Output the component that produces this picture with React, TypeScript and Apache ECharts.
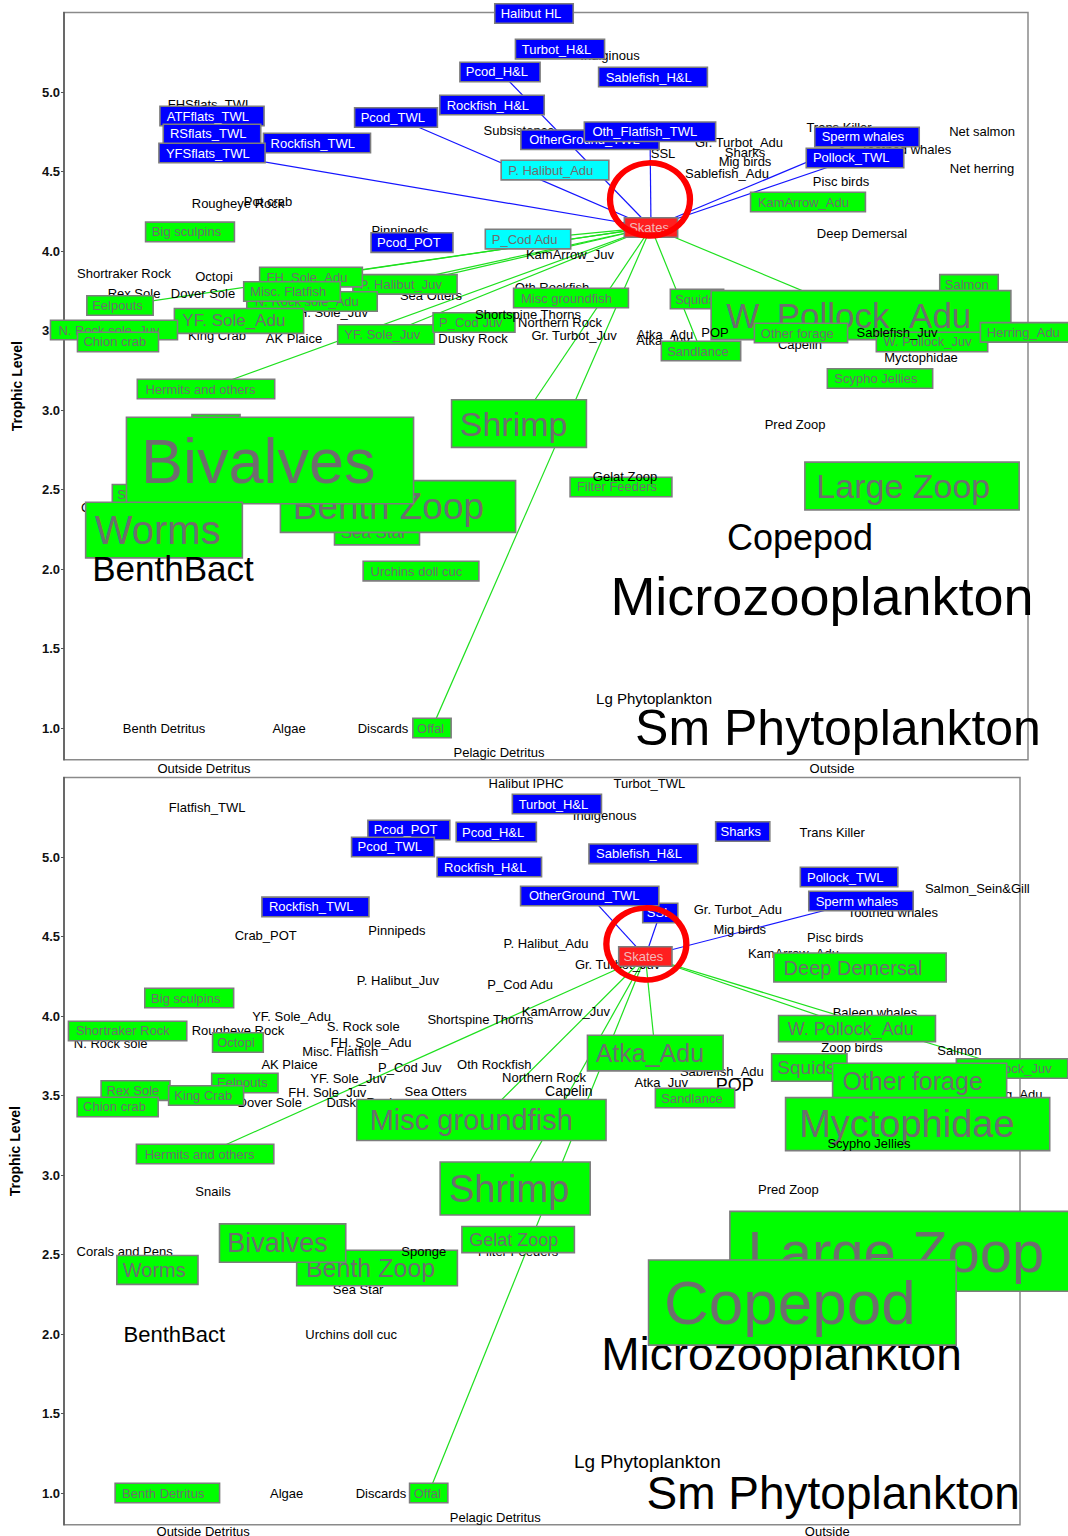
import React, { useEffect, useRef } from "react";
import * as echarts from "echarts";

// [name, x position in the web layout, trophic level, role, label size]
// role: n = plain group, b = fleet / predator of focus (blue), g = prey of focus (green),
//       c = predator and prey (cyan), r = focus group
// rows are listed in drawing order (later rows are drawn on top)
type Row = [string, number, number, string, number];

const topNodes: Row[] = [
  ["FHSflats_TWL", 146, 4.92, "n", 13],
  ["Indiginous", 546, 5.23, "n", 13],
  ["Subsistence", 455, 4.755, "n", 13],
  ["SSL", 599, 4.616, "n", 13],
  ["Gr. Turbot_Adu", 675, 4.68, "n", 13],
  ["Sharks", 681, 4.62, "n", 13],
  ["Mig birds", 681, 4.56, "n", 13],
  ["Sablefish_Adu", 663, 4.49, "n", 13],
  ["Trans Killer", 775, 4.774, "n", 13],
  ["Toothed whales", 842, 4.64, "n", 13],
  ["Net salmon", 918, 4.75, "n", 13],
  ["Net herring", 918, 4.52, "n", 13],
  ["Pisc birds", 777, 4.434, "n", 13],
  ["Deep Demersal", 798, 4.113, "n", 13],
  ["Rougheye Rock", 174, 4.3, "n", 13],
  ["Pot crab", 204, 4.31, "n", 13],
  ["Pinnipeds", 336, 4.13, "n", 13],
  ["KamArrow_Juv", 506, 3.98, "n", 13],
  ["Shortraker Rock", 60, 3.86, "n", 13],
  ["Octopi", 150, 3.84, "n", 13],
  ["Rex Sole", 70, 3.73, "n", 13],
  ["Dover Sole", 139, 3.73, "n", 13],
  ["Sea Otters", 367, 3.72, "n", 13],
  ["FH. Sole_Juv", 265, 3.615, "n", 13],
  ["King Crab", 153, 3.47, "n", 13],
  ["AK Plaice", 230, 3.45, "n", 13],
  ["Oth Rockfish", 488, 3.77, "n", 13],
  ["Dusky Rock", 409, 3.45, "n", 13],
  ["Gr. Turbot_Juv", 510, 3.47, "n", 13],
  ["Atka_Adu", 601, 3.475, "n", 13],
  ["Atka_Juv", 599, 3.44, "n", 13],
  ["Capelin", 736, 3.41, "n", 13],
  ["Myctophidae", 857, 3.33, "n", 13],
  ["Pred Zoop", 731, 2.906, "n", 13],
  ["Corals and Pens", 65, 2.385, "n", 13],
  ["Copepod", 736, 2.2, "n", 36],
  ["Microzooplankton", 758, 1.83, "n", 54],
  ["Lg Phytoplankton", 590, 1.186, "n", 15],
  ["Sm Phytoplankton", 774, 1.0, "n", 50],
  ["Benth Detritus", 100, 1.0, "n", 13],
  ["Algae", 225, 1.0, "n", 13],
  ["Discards", 319, 1.0, "n", 13],
  ["Pelagic Detritus", 435, 0.843, "n", 13],
  ["Outside Detritus", 140, 0.745, "n", 13],
  ["Outside", 768, 0.745, "n", 13],
  ["Halibut HL", 470, 5.494, "b", 13],
  ["Turbot_H&L", 496, 5.27, "b", 13],
  ["Pcod_H&L", 436, 5.126, "b", 13],
  ["Sablefish_H&L", 589, 5.094, "b", 13],
  ["Rockfish_H&L", 428, 4.918, "b", 13],
  ["Pcod_TWL", 332, 4.84, "b", 13],
  ["Rockfish_TWL", 253, 4.679, "b", 13],
  ["ATFflats_TWL", 148, 4.849, "b", 13],
  ["RSflats_TWL", 148, 4.736, "b", 13],
  ["YFSflats_TWL", 148, 4.616, "b", 13],
  ["OtherGround_TWL", 526, 4.7, "b", 13],
  ["Oth_Flatfish_TWL", 586, 4.75, "b", 13],
  ["P. Halibut_Adu", 491, 4.509, "c", 13],
  ["Sperm whales", 803, 4.717, "b", 13],
  ["Pollock_TWL", 791, 4.585, "b", 13],
  ["KamArrow_Adu", 744, 4.308, "g", 13],
  ["Big sculpins", 126, 4.12, "g", 13],
  ["Pcod_POT", 348, 4.053, "b", 13],
  ["P_Cod Adu", 464, 4.075, "c", 13],
  ["Salmon", 905, 3.79, "g", 13],
  ["Misc groundfish", 507, 3.704, "g", 13],
  ["Squids", 633, 3.698, "g", 13],
  ["P. Halibut_Juv", 341, 3.79, "g", 13],
  ["FH. Sole_Adu", 247, 3.836, "g", 13],
  ["N. Rock sole_Adu", 248, 3.682, "g", 13],
  ["Misc. Flatfish", 228, 3.745, "g", 13],
  ["Eelpouts", 56, 3.657, "g", 13],
  ["YF. Sole_Adu", 175, 3.56, "g", 17],
  ["N. Rock sole_Juv", 50, 3.503, "g", 13],
  ["Chion crab", 54, 3.428, "g", 13],
  ["YF. Sole_Juv", 322, 3.475, "g", 13],
  ["P_Cod Juv", 410, 3.55, "g", 13],
  ["Sandlance", 637, 3.371, "g", 13],
  ["W. Pollock_Adu", 797, 3.597, "g", 35],
  ["Other forage", 737, 3.484, "g", 13],
  ["W. Pollock_Juv", 868, 3.428, "g", 13],
  ["Herring_Adu", 963, 3.488, "g", 13],
  ["Scypho Jellies", 816, 3.198, "g", 13],
  ["Hermits and others", 142, 3.132, "g", 13],
  ["Shrimp", 455, 2.915, "g", 34],
  ["Snails", 152, 2.91, "g", 13],
  ["Sponge", 78, 2.47, "g", 13],
  ["Sea Star", 313, 2.23, "g", 17],
  ["Benth Zoop", 334, 2.393, "g", 37],
  ["Bivalves", 206, 2.682, "g", 63],
  ["Worms", 100, 2.245, "g", 40],
  ["Urchins doll cuc", 357, 1.987, "g", 13],
  ["Filter Feeders", 557, 2.516, "g", 13],
  ["Large Zoop", 848, 2.522, "g", 34],
  ["Offal", 368, 1.0, "g", 13],
  ["Skates", 587, 4.148, "r", 13],
  ["BenthBact", 109, 2.003, "n", 35],
  ["Gelat Zoop", 561, 2.579, "n", 13],
  ["Shortspine Thorns", 464, 3.6, "n", 13],
  ["Northern Rock", 496, 3.553, "n", 13],
  ["Sablefish_Juv", 833, 3.49, "n", 13],
  ["POP", 651, 3.49, "n", 13],
];

const bottomNodes: Row[] = [
  ["Halibut IPHC", 465, 5.465, "n", 13],
  ["Turbot_TWL", 589, 5.465, "n", 13],
  ["Flatfish_TWL", 144, 5.31, "n", 13],
  ["Indigenous", 544, 5.258, "n", 13],
  ["Trans Killer", 773, 5.157, "n", 13],
  ["Salmon_Sein&Gill", 919, 4.799, "n", 13],
  ["Toothed whales", 834, 4.654, "n", 13],
  ["Gr. Turbot_Adu", 678, 4.667, "n", 13],
  ["Mig birds", 680, 4.541, "n", 13],
  ["Pisc birds", 776, 4.491, "n", 13],
  ["KamArrow_Adu", 734, 4.396, "n", 13],
  ["Crab_POT", 203, 4.509, "n", 13],
  ["Pinnipeds", 335, 4.535, "n", 13],
  ["P. Halibut_Adu", 485, 4.453, "n", 13],
  ["Gr. Turbot_Juv", 557, 4.327, "n", 13],
  ["P_Cod Adu", 459, 4.195, "n", 13],
  ["P. Halibut_Juv", 336, 4.226, "n", 13],
  ["KamArrow_Juv", 505, 4.031, "n", 13],
  ["Baleen whales", 816, 4.025, "n", 13],
  ["YF. Sole_Adu", 229, 3.994, "n", 13],
  ["S. Rock sole", 301, 3.937, "n", 13],
  ["Shortspine Thorns", 419, 3.975, "n", 13],
  ["N. Rock sole", 47, 3.824, "n", 13],
  ["Rougheye Rock", 175, 3.906, "n", 13],
  ["FH. Sole_Adu", 309, 3.836, "n", 13],
  ["Misc. Flatfish", 278, 3.774, "n", 13],
  ["AK Plaice", 227, 3.692, "n", 13],
  ["Zoop birds", 793, 3.805, "n", 13],
  ["Salmon", 901, 3.786, "n", 13],
  ["Oth Rockfish", 433, 3.698, "n", 13],
  ["P_Cod Juv", 348, 3.673, "n", 13],
  ["Northern Rock", 483, 3.616, "n", 13],
  ["YF. Sole_Juv", 286, 3.604, "n", 13],
  ["Sablefish_Adu", 662, 3.648, "n", 13],
  ["Atka_Juv", 601, 3.579, "n", 13],
  ["POP", 675, 3.566, "n", 18],
  ["Capelin", 508, 3.528, "n", 14],
  ["Sea Otters", 374, 3.528, "n", 13],
  ["FH. Sole_Juv", 265, 3.522, "n", 13],
  ["Herring_Adu", 948, 3.509, "n", 13],
  ["Dover Sole", 207, 3.453, "n", 13],
  ["Dusky Rock", 299, 3.453, "n", 13],
  ["Snails", 150, 2.899, "n", 13],
  ["Pred Zoop", 729, 2.906, "n", 13],
  ["Corals and Pens", 61, 2.52, "n", 13],
  ["Filter Feeders", 457, 2.516, "n", 13],
  ["Sea Star", 296, 2.283, "n", 13],
  ["BenthBact", 111, 2.0, "n", 22],
  ["Urchins doll cuc", 289, 2.0, "n", 13],
  ["Microzooplankton", 722, 1.877, "n", 46],
  ["Lg Phytoplankton", 587, 1.198, "n", 19],
  ["Sm Phytoplankton", 774, 1.0, "n", 46],
  ["Algae", 224, 1.0, "n", 13],
  ["Discards", 319, 1.0, "n", 13],
  ["Pelagic Detritus", 434, 0.843, "n", 13],
  ["Outside Detritus", 140, 0.755, "n", 13],
  ["Outside", 768, 0.755, "n", 13],
  ["Turbot_H&L", 496, 5.333, "b", 13],
  ["Pcod_POT", 347, 5.17, "b", 13],
  ["Pcod_TWL", 331, 5.063, "b", 13],
  ["Pcod_H&L", 435, 5.157, "b", 13],
  ["Sharks", 683, 5.16, "b", 13],
  ["Sablefish_H&L", 583, 5.02, "b", 13],
  ["Rockfish_H&L", 428, 4.937, "b", 13],
  ["Pollock_TWL", 790, 4.874, "b", 13],
  ["Rockfish_TWL", 253, 4.686, "b", 13],
  ["SSL", 600, 4.648, "b", 13],
  ["OtherGround_TWL", 529, 4.755, "b", 13],
  ["Sperm whales", 802, 4.723, "b", 13],
  ["Deep Demersal", 801, 4.305, "g", 20],
  ["Big sculpins", 126, 4.113, "g", 13],
  ["Shortraker Rock", 64, 3.906, "g", 13],
  ["Octopi", 175, 3.833, "g", 13],
  ["W. Pollock_Adu", 798, 3.921, "g", 18],
  ["Atka_Adu", 595, 3.767, "g", 25],
  ["Eelpouts", 182, 3.579, "g", 13],
  ["Rex Sole", 72, 3.531, "g", 13],
  ["King Crab", 143, 3.5, "g", 13],
  ["Chion crab", 54, 3.428, "g", 13],
  ["Squids", 750, 3.676, "g", 19],
  ["W. Pollock_Juv", 954, 3.67, "g", 13],
  ["Sandlance", 635, 3.484, "g", 13],
  ["Other forage", 861, 3.591, "g", 25],
  ["Myctophidae", 859, 3.32, "g", 38],
  ["Misc groundfish", 420, 3.346, "g", 29],
  ["Hermits and others", 142, 3.132, "g", 13],
  ["Shrimp", 454, 2.915, "g", 38],
  ["Gelat Zoop", 457, 2.594, "g", 18],
  ["Worms", 94, 2.403, "g", 20],
  ["Benth Zoop", 315, 2.415, "g", 25],
  ["Bivalves", 220, 2.572, "g", 27],
  ["Large Zoop", 852, 2.52, "g", 58],
  ["Copepod", 743, 2.198, "g", 62],
  ["Benth Detritus", 104, 1.0, "g", 13],
  ["Offal", 367, 1.0, "g", 13],
  ["Skates", 585, 4.374, "r", 13],
  ["Scypho Jellies", 810, 3.201, "n", 13],
  ["Sponge", 362, 2.52, "n", 13],
];

const focusGroup = "Skates";
const topPredLinks = ["YFSflats_TWL", "Pcod_TWL", "Pcod_H&L", "Oth_Flatfish_TWL", "Pollock_TWL", "Sperm whales"];
const topPreyLinks = ["P_Cod Adu", "FH. Sole_Adu", "Eelpouts", "P. Halibut_Juv", "N. Rock sole_Adu", "YF. Sole_Juv", "Hermits and others", "Shrimp", "Offal", "Sandlance", "W. Pollock_Adu"];
const bottomPredLinks = ["OtherGround_TWL", "SSL", "Sperm whales"];
const bottomPreyLinks = ["Hermits and others", "Misc groundfish", "Shrimp", "Offal", "Atka_Adu", "W. Pollock_Adu", "W. Pollock_Juv"];

// highlight ring around the focus group: [x, trophic level]
const topRing = [586, 4.324];
const bottomRing = [586, 4.453];

const tlTicks = [1.0, 1.5, 2.0, 2.5, 3.0, 3.5, 4.0, 4.5, 5.0];

const FONT = '"Liberation Sans", Arial, Helvetica, sans-serif';

let measureCtx: CanvasRenderingContext2D | null = null;
function textWidth(t: string, fs: number): number {
  if (!measureCtx) measureCtx = document.createElement("canvas").getContext("2d");
  if (!measureCtx) return t.length * fs * 0.55;
  measureCtx.font = `${fs}px ${FONT}`;
  return measureCtx.measureText(t).width;
}

const ROLE_STYLE: Record<string, { bg: string; fg: string } | null> = {
  n: null,
  b: { bg: "#0000ff", fg: "#ffffff" },
  g: { bg: "#00ff00", fg: "#6e6e6e" },
  c: { bg: "#00ffff", fg: "#6e6e6e" },
  r: { bg: "#ff1f1f", fg: "#f3b9b9" },
};

function labelOf(row: Row) {
  const [name, , , role, fs] = row;
  const st = ROLE_STYLE[role];
  const label: any = {
    show: true,
    position: "inside",
    formatter: "{b}",
    fontSize: fs,
    fontFamily: FONT,
    lineHeight: fs,
    color: "#000000",
    opacity: 1,
    textBorderWidth: 0,
  };
  if (st) {
    const w = textWidth(name, fs);
    const pv = fs * 0.17;
    Object.assign(label, {
      color: st.fg,
      backgroundColor: st.bg,
      borderColor: "#7d7d7d",
      borderWidth: 1.6,
      padding: [pv + 0.5, w * 0.15 + 2, pv, w * 0.05 + 2],
    });
  }
  return label;
}

function buildLinks(nodes: Row[], preds: string[], prey: string[]) {
  const find = (n: string) => nodes.find((r) => r[0] === n);
  const f = find(focusGroup)!;
  const out: any[] = [];
  const add = (names: string[], color: string) => {
    names.forEach((n) => {
      const r = find(n);
      if (!r) return;
      out.push({ coords: [[f[1], f[2]], [r[1], r[2]]], lineStyle: { color, width: 1.2, opacity: 1 } });
    });
  };
  add(preds, "#1515ff");
  add(prey, "#1ee01e");
  return out;
}

export default function App() {
  const ref = useRef<HTMLDivElement>(null);

  useEffect(() => {
    if (!ref.current) return;
    const chart = echarts.init(ref.current, null, { renderer: "svg" });

    const panels = [
      { nodes: topNodes, preds: topPredLinks, prey: topPreyLinks, ring: topRing, ringSize: [80, 73] },
      { nodes: bottomNodes, preds: bottomPredLinks, prey: bottomPreyLinks, ring: bottomRing, ringSize: [80, 72] },
    ];

    const series: any[] = [];
    panels.forEach((p, i) => {
      series.push({
        type: "lines",
        coordinateSystem: "cartesian2d",
        xAxisIndex: i,
        yAxisIndex: i,
        z: 2,
        silent: true,
        polyline: false,
        lineStyle: { width: 1.2, opacity: 1 },
        data: buildLinks(p.nodes, p.preds, p.prey),
      });
      // one series per group so the drawing order follows the row order
      p.nodes.forEach((row, k) => {
        series.push({
          type: "scatter",
          name: row[0],
          xAxisIndex: i,
          yAxisIndex: i,
          z: 3 + k,
          clip: false,
          silent: true,
          symbol: "rect",
          symbolSize: 1,
          itemStyle: { color: "rgba(0,0,0,0)", opacity: 1 },
          emphasis: { disabled: true },
          label: labelOf(row),
          data: [{ name: row[0], value: [row[1], row[2]] }],
        });
      });
      series.push({
        type: "scatter",
        xAxisIndex: i,
        yAxisIndex: i,
        z: 500,
        clip: false,
        silent: true,
        symbol: "circle",
        symbolSize: p.ringSize,
        itemStyle: { color: "rgba(0,0,0,0)", borderColor: "#ff0000", borderWidth: 6, opacity: 1 },
        emphasis: { disabled: true },
        data: [p.ring],
      });
    });

    const yAxisBase = (i: number, gap: number) => ({
      type: "value",
      gridIndex: i,
      min: 0.8,
      max: 5.5,
      name: "Trophic Level",
      nameLocation: "middle",
      nameGap: gap,
      nameTextStyle: { fontWeight: "bold", fontSize: 14, fontFamily: FONT, color: "#000" },
      axisLine: { show: true, lineStyle: { color: "#555", width: 1.5 } },
      axisTick: { show: true, length: 3, customValues: tlTicks, lineStyle: { color: "#555" } },
      axisLabel: {
        customValues: tlTicks,
        formatter: (v: number) => v.toFixed(1),
        fontWeight: "bold",
        fontSize: 13,
        fontFamily: FONT,
        color: "#111",
        margin: 4,
      },
      splitLine: { show: false },
    });

    chart.setOption({
      animation: false,
      backgroundColor: "#ffffff",
      grid: [
        { left: 64, top: 12.5, width: 964, height: 747.3, show: true, borderColor: "#8a8a8a", borderWidth: 1.5, backgroundColor: "transparent" },
        { left: 58, top: 777.5, width: 962, height: 747.3, show: true, borderColor: "#8a8a8a", borderWidth: 1.5, backgroundColor: "transparent" },
      ],
      xAxis: [
        { type: "value", gridIndex: 0, min: 0, max: 964, show: false },
        { type: "value", gridIndex: 1, min: 0, max: 962, show: false },
      ],
      yAxis: [yAxisBase(0, 40), yAxisBase(1, 42)],
      series,
    });

    return () => chart.dispose();
  }, []);

  return (
    <div
      ref={ref}
      style={{ position: "absolute", left: 0, top: 0, width: 1068, height: 1536, background: "#fff" }}
    />
  );
}
